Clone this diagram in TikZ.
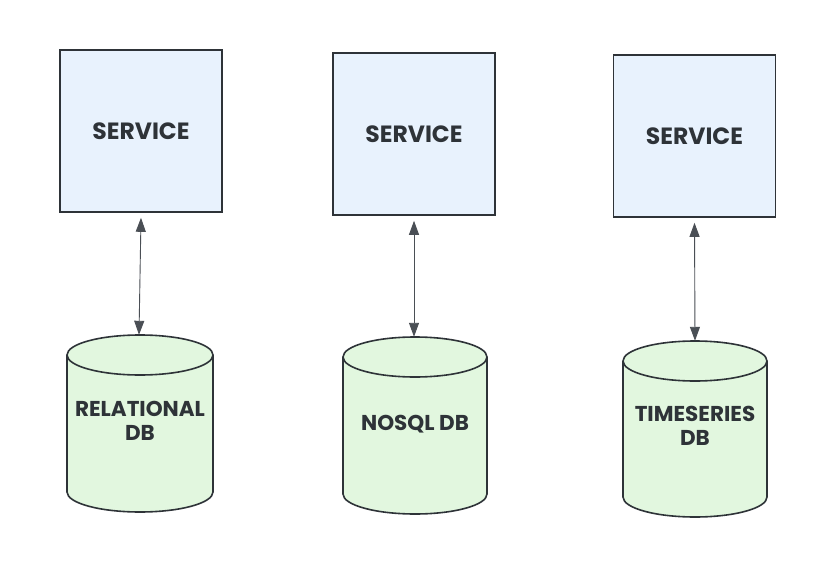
\documentclass[tikz,border=0pt]{standalone}
\usepackage{fontspec}
\setmainfont{Poppins}
\usetikzlibrary{arrows.meta}
\definecolor{ink}{HTML}{2E3338}
\definecolor{boxfill}{HTML}{E8F2FD}
\definecolor{dbfill}{HTML}{E2F7DF}
\definecolor{wire}{HTML}{4A4F55}
\tikzset{
  svcbox/.style={draw=ink, fill=boxfill, line width=1.6pt, minimum width=162pt, minimum height=162pt, inner sep=0pt,
    font=\fontsize{23.5}{25}\selectfont\bfseries, text=ink},
  dbnode/.style={draw=none, minimum width=145pt, inner sep=0pt, align=center,
    font=\fontsize{21.5}{24}\selectfont\bfseries, text=ink},
  dbline/.style={draw=ink, line width=1.6pt},
  tip/.tip={Triangle[length=14pt,width=10pt]},
  link/.style={draw=wire, line width=0.9pt, tip-tip},
}
\newcommand{\dbcyl}[5]{% cx, ytop, ybottom, rx, ry
  \fill[dbfill] (#1-#4,#2) -- (#1-#4,#3) arc[start angle=180,end angle=360,x radius=#4,y radius=#5] -- (#1+#4,#2) arc[start angle=0,end angle=180,x radius=#4,y radius=#5] -- cycle;
  \draw[dbline] (#1-#4,#2) -- (#1-#4,#3) arc[start angle=180,end angle=360,x radius=#4,y radius=#5] -- (#1+#4,#2);
  \draw[dbline] (#1,#2) ellipse[x radius=#4,y radius=#5];
}
\newcommand{\dblabel}[2]{\raisebox{#1}{\renewcommand{\arraystretch}{1}\begin{tabular}{@{}c@{}}#2\end{tabular}}}
\begin{document}
\begin{tikzpicture}[x=1pt,y=1pt]
\useasboundingbox (0,0) rectangle (837,566);
\fill[white] (0,0) rectangle (837,566);

\node[svcbox] (s1) at (141,435) {SERVICE};
\node[svcbox] (s2) at (414,432) {SERVICE};
\node[svcbox] (s3) at (694.5,430) {SERVICE};

\dbcyl{140}{211}{74}{73}{20}
\dbcyl{415}{209}{72}{72}{20}
\dbcyl{695}{205}{69}{72}{20}

\node[dbnode, minimum height=177pt] (d1) at (140,142.5) {\dblabel{5pt}{RELATIONAL\\DB}};
\node[dbnode, minimum height=177pt] (d2) at (415,140.5) {\dblabel{3pt}{NOSQL DB}};
\node[dbnode, minimum height=176pt] (d3) at (695,137) {\dblabel{1pt}{TIMESERIES\\DB}};

\draw[link] ([yshift=-5pt]s1.south) -- ([xshift=-1pt]d1.north);
\draw[link] ([yshift=-5pt]s2.south) -- ([xshift=-1pt]d2.north);
\draw[link] ([yshift=-5pt]s3.south) -- ([xshift=0pt]d3.north);
\end{tikzpicture}
\end{document}
